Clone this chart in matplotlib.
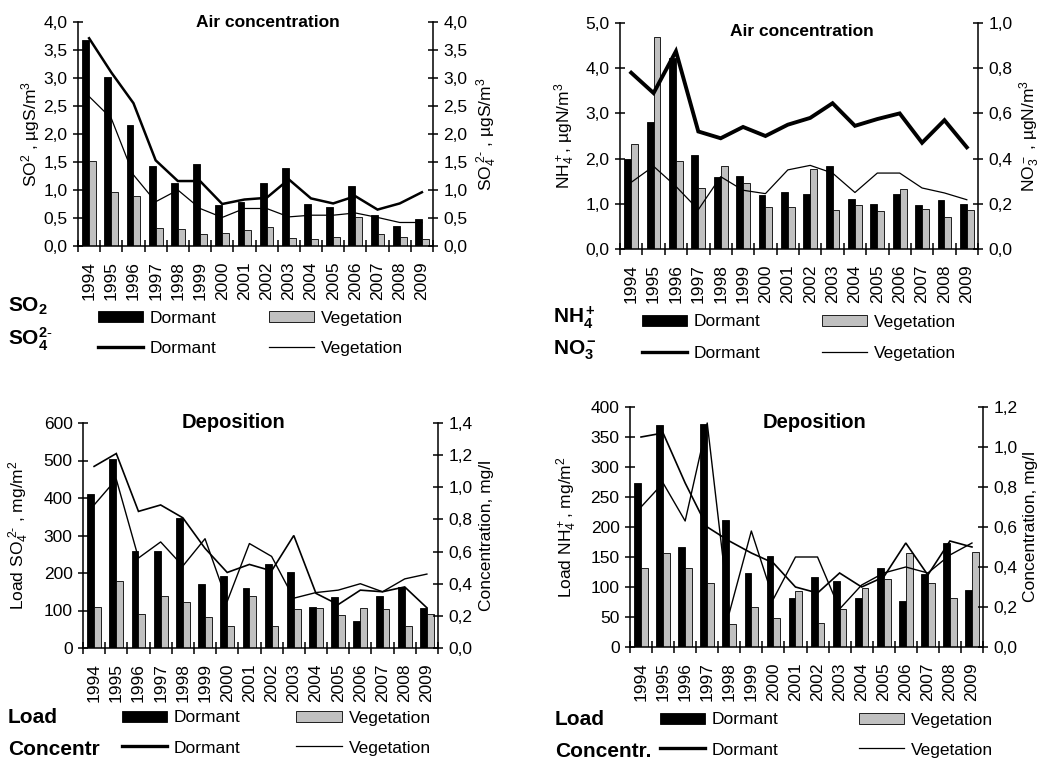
import numpy as np
import matplotlib
matplotlib.use("Agg")
import matplotlib.pyplot as plt
from matplotlib.ticker import FuncFormatter
from matplotlib.lines import Line2D

plt.rcParams['font.family'] = ['Liberation Sans', 'DejaVu Sans']
plt.rcParams['mathtext.fontset'] = 'custom'
plt.rcParams['mathtext.rm'] = 'Liberation Sans'
plt.rcParams['mathtext.it'] = 'Liberation Sans:italic'
plt.rcParams['mathtext.bf'] = 'Liberation Sans:bold'

years = ['1994', '1995', '1996', '1997', '1998', '1999', '2000', '2001',
         '2002', '2003', '2004', '2005', '2006', '2007', '2008', '2009']

# Panel 1: SO2 (bars, left) / SO4 2- (lines, right), ugS/m3
so2_dormant = [3.67, 3.01, 2.16, 1.42, 1.13, 1.47, 0.73, 0.78, 1.13, 1.39, 0.75, 0.70, 1.07, 0.55, 0.36, 0.48]
so2_veg = [1.51, 0.96, 0.89, 0.32, 0.31, 0.22, 0.24, 0.29, 0.34, 0.15, 0.13, 0.16, 0.52, 0.22, 0.16, 0.12]
so4_dormant = [3.71, 3.10, 2.55, 1.53, 1.16, 1.16, 0.75, 0.83, 0.86, 1.19, 0.85, 0.76, 0.89, 0.65, 0.76, 0.96]
so4_veg = [2.67, 2.28, 1.27, 0.79, 1.00, 0.67, 0.51, 0.67, 0.67, 0.52, 0.55, 0.55, 0.59, 0.51, 0.42, 0.42]

# Panel 2: NH4+ (bars, left) / NO3- (lines, right), ugN/m3
nh4_dormant = [2.00, 2.80, 4.23, 2.09, 1.59, 1.62, 1.20, 1.26, 1.22, 1.84, 1.11, 1.00, 1.22, 0.97, 1.09, 1.00]
nh4_veg = [2.33, 4.69, 1.94, 1.35, 1.83, 1.47, 0.94, 0.94, 1.77, 0.87, 0.97, 0.83, 1.33, 0.89, 0.71, 0.86]
no3_dormant = [0.78, 0.69, 0.875, 0.52, 0.49, 0.54, 0.50, 0.55, 0.58, 0.645, 0.545, 0.575, 0.60, 0.47, 0.57, 0.45]
no3_veg = [0.295, 0.366, 0.277, 0.174, 0.32, 0.26, 0.245, 0.35, 0.37, 0.336, 0.25, 0.336, 0.336, 0.27, 0.248, 0.218]

# Panel 3: SO4 deposition load (mg/m2) / concentration (mg/l)
load_so4_dormant = [412, 505, 260, 260, 348, 171, 192, 160, 224, 204, 110, 136, 71, 139, 162, 106]
load_so4_veg = [110, 178, 92, 138, 124, 84, 60, 138, 60, 103, 106, 88, 106, 104, 60, 92]
conc_so4_dormant = [1.13, 1.21, 0.85, 0.89, 0.81, 0.62, 0.47, 0.52, 0.48, 0.70, 0.34, 0.27, 0.36, 0.35, 0.38, 0.25]
conc_so4_veg = [0.89, 1.05, 0.56, 0.66, 0.51, 0.68, 0.29, 0.65, 0.57, 0.31, 0.345, 0.36, 0.40, 0.35, 0.43, 0.46]

# Panel 4: NH4+ deposition load (mg/m2) / concentration (mg/l)
load_nh4_dormant = [274, 370, 167, 372, 212, 123, 152, 82, 116, 110, 82, 132, 76, 122, 174, 95]
load_nh4_veg = [131, 156, 131, 107, 38, 67, 49, 94, 40, 64, 98, 113, 156, 107, 82, 158]
conc_nh4_dormant = [1.05, 1.07, 0.82, 0.60, 0.53, 0.47, 0.42, 0.30, 0.27, 0.37, 0.30, 0.35, 0.52, 0.36, 0.53, 0.50]
conc_nh4_veg = [0.70, 0.82, 0.63, 1.12, 0.17, 0.58, 0.24, 0.45, 0.45, 0.19, 0.31, 0.37, 0.40, 0.37, 0.46, 0.52]

W, H = 1042, 760
fig = plt.figure(figsize=(W / 100, H / 100), dpi=100)
FS = 12.5
GRAY = '#c0c0c0'


def comma(dec):
    if dec == 0:
        return FuncFormatter(lambda v, p: f"{v:.0f}")
    return FuncFormatter(lambda v, p: f"{v:.{dec}f}".replace('.', ','))


def panel(rect, bars_d, bars_v, line_d, line_v, lmax, lstep, ldec, rmax, rstep, rdec,
          lw_d, lw_v, ylab_l, ylab_r, lab_lx, lab_rx, title, title_xy, title_fs):
    ax = fig.add_axes(rect)
    ax2 = ax.twinx()
    x = np.arange(len(years))
    w = 0.31
    b1 = ax.bar(x - w / 2, bars_d, w, color='black', edgecolor='black', linewidth=0.6)
    b2 = ax.bar(x + w / 2, bars_v, w, color=GRAY, edgecolor='black', linewidth=0.6)
    ax2.plot(x, line_d, color='black', lw=lw_d, solid_joinstyle='miter')
    ax2.plot(x, line_v, color='black', lw=lw_v)
    ax.set_xlim(-0.5, len(years) - 0.5)
    ax.set_ylim(0, lmax)
    ax2.set_ylim(0, rmax)
    for s in ['top', 'right']:
        ax.spines[s].set_visible(False)
    for s in ['top', 'left', 'bottom']:
        ax2.spines[s].set_visible(False)
    for a in (ax, ax2):
        for s in a.spines.values():
            s.set_linewidth(1.1)
    ax.set_xticks(x)
    ax.set_xticklabels(years, rotation=90, fontsize=FS)
    ax.tick_params(axis='x', which='major', length=0, pad=11)
    ax.set_xticks(np.arange(-0.5, len(years), 1.0), minor=True)
    ax.tick_params(axis='x', which='minor', direction='inout', length=8, width=1.1)
    ax.set_yticks(np.arange(0, lmax + lstep / 2, lstep))
    ax.yaxis.set_major_formatter(comma(ldec))
    ax.tick_params(axis='y', direction='inout', length=7, width=1.1, labelsize=FS, pad=4)
    ax2.set_yticks(np.arange(0, rmax + rstep / 2, rstep))
    ax2.yaxis.set_major_formatter(comma(rdec))
    ax2.tick_params(axis='y', direction='inout', length=7, width=1.1, labelsize=FS, pad=4)
    ax.set_ylabel(ylab_l, fontsize=FS, va='center')
    ax.yaxis.set_label_coords(lab_lx, 0.5)
    ax2.set_ylabel(ylab_r, fontsize=FS, va='center')
    ax2.yaxis.set_label_coords(lab_rx, 0.5)
    ax2.text(title_xy[0], title_xy[1], title, transform=ax.transAxes, ha='center',
             va='baseline', fontsize=title_fs, fontweight='bold')
    return ax, ax2, b1, b2


def fx(px):
    return px / W


def fy(py):
    return 1 - py / H


def rect(x0, x1, ytop, ybot):
    return [fx(x0), fy(ybot), (x1 - x0) / W, (ybot - ytop) / H]


def legends(b1, b2, hx, y1, y2, cs):
    fig.legend([b1, b2], ['Dormant', 'Vegetation'], loc='center left',
               bbox_to_anchor=(fx(hx), fy(y1)), ncol=2, frameon=False, fontsize=FS,
               handlelength=2.6, handletextpad=0.4, columnspacing=cs,
               borderpad=0, borderaxespad=0, handleheight=0.65)
    lh = [Line2D([], [], color='black', lw=2.4), Line2D([], [], color='black', lw=0.9)]
    fig.legend(lh, ['Dormant', 'Vegetation'], loc='center left',
               bbox_to_anchor=(fx(hx), fy(y2)), ncol=2, frameon=False, fontsize=FS,
               handlelength=2.6, handletextpad=0.4, columnspacing=cs,
               borderpad=0, borderaxespad=0)


# Panel 1
ax, ax2, b1, b2 = panel(rect(78, 433, 22, 246), so2_dormant, so2_veg, so4_dormant, so4_veg,
                        4.0, 0.5, 1, 4.0, 0.5, 1, 1.8, 0.9,
                        r'SO$^2$ , µgS/m$^3$', r'SO$_4^{\ 2\text{-}}$ , µgS/m$^3$',
                        -0.135, 1.152, 'Air concentration', (0.535, 0.978), 12.5)
legends(b1, b2, 98, 318, 348, 3.0)
fig.text(fx(8), fy(312), r'$\mathbf{SO_2}$', fontsize=15, va='baseline')
fig.text(fx(8), fy(345), r'$\mathbf{SO_4^{2\text{-}}}$', fontsize=15, va='baseline')

# Panel 2
ax, ax2, b1, b2 = panel(rect(620, 978, 23, 249), nh4_dormant, nh4_veg, no3_dormant, no3_veg,
                        5.0, 1.0, 1, 1.0, 0.2, 1, 2.8, 0.9,
                        r'NH$_4^+$, µgN/m$^3$', r'NO$_3^-$ , µgN/m$^3$',
                        -0.154, (1030 - 620) / 358, 'Air concentration', (0.508, 0.942), 12.5)
legends(b1, b2, 642, 322, 353, 3.5)
fig.text(fx(553), fy(323), r'$\mathbf{NH_4^+}$', fontsize=15, va='baseline')
fig.text(fx(553), fy(355), r'$\mathbf{NO_3^-}$', fontsize=15, va='baseline')

# Panel 3
ax, ax2, b1, b2 = panel(rect(83, 438, 423, 648), load_so4_dormant, load_so4_veg,
                        conc_so4_dormant, conc_so4_veg,
                        600, 100, 0, 1.4, 0.2, 1, 1.2, 1.0,
                        r'Load SO$_4^{\ 2\text{-}}$ , mg/m$^2$', 'Concentration, mg/l',
                        (19 - 83) / 355, 1.138, 'Deposition', (0.425, 0.978), 14.5)
legends(b1, b2, 122, 718, 748, 3.2)
fig.text(fx(8), fy(723), 'Load', fontsize=15, fontweight='bold', va='baseline')
fig.text(fx(8), fy(755), 'Concentr', fontsize=15, fontweight='bold', va='baseline')

# Panel 4
ax, ax2, b1, b2 = panel(rect(630, 983, 407, 647), load_nh4_dormant, load_nh4_veg,
                        conc_nh4_dormant, conc_nh4_veg,
                        400, 50, 0, 1.2, 0.2, 1, 1.2, 1.0,
                        r'Load NH$_4^+$, mg/m$^2$', 'Concentration, mg/l',
                        -0.178, (1030 - 630) / 353, 'Deposition', (0.524, 0.9125), 14.5)
legends(b1, b2, 660, 720, 750, 4.6)
fig.text(fx(555), fy(725), 'Load', fontsize=15, fontweight='bold', va='baseline')
fig.text(fx(555), fy(757), 'Concentr.', fontsize=15, fontweight='bold', va='baseline')

fig.savefig('out.png', dpi=100)
